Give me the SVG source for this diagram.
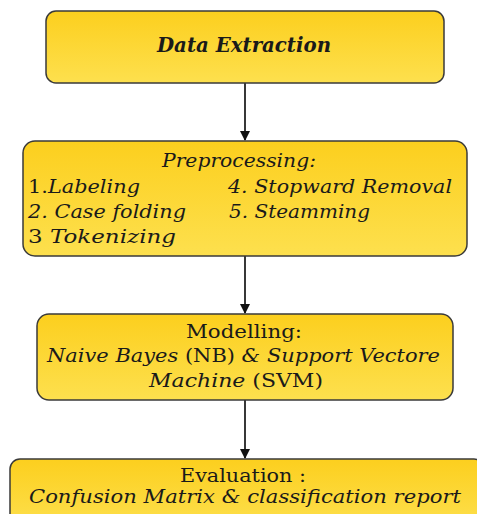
<svg xmlns="http://www.w3.org/2000/svg" width="477" height="514" viewBox="0 0 477 514">
<defs>
<linearGradient id="g" x1="0" y1="0" x2="0" y2="1">
<stop offset="0" stop-color="#FCCF1E"/>
<stop offset="1" stop-color="#FDE04E"/>
</linearGradient>
<marker id="ah" viewBox="0 0 10 10" refX="9" refY="5" markerWidth="10" markerHeight="10" markerUnits="userSpaceOnUse" orient="auto">
<path d="M0,0 L10,5 L0,10 z" fill="#111"/>
</marker>
</defs>
<style>
.box{fill:url(#g);stroke:#3a3a3a;stroke-width:1.5}
text{font-family:"DejaVu Serif","Liberation Serif",serif;fill:#1a1a1a}
.i{font-style:italic}
.c{text-anchor:middle}
.edge{stroke:#222;stroke-width:1.8;fill:none;marker-end:url(#ah)}
</style>
<g id="connectors">
<line class="edge" x1="245" y1="83" x2="245" y2="140"/>
<line class="edge" x1="245" y1="256" x2="245" y2="313"/>
<line class="edge" x1="245" y1="400" x2="245" y2="458"/>
</g>
<g id="n1">
<rect class="box" x="46" y="11" width="398" height="72" rx="10"/>
<text class="c i" x="244" y="52" font-size="21" font-weight="bold" textLength="174" lengthAdjust="spacingAndGlyphs">Data Extraction</text>
</g>
<g id="n2">
<rect class="box" x="23" y="141" width="444" height="115" rx="12"/>
<text class="c i" x="239" y="167" font-size="18.5" textLength="154" lengthAdjust="spacingAndGlyphs">Preprocessing:</text>
<text x="28" y="193" font-size="18.5" textLength="112" lengthAdjust="spacingAndGlyphs">1.<tspan class="i">Labeling</tspan></text>
<text class="i" x="228" y="193" font-size="18.5" textLength="224" lengthAdjust="spacingAndGlyphs">4. Stopward Removal</text>
<text class="i" x="28" y="218" font-size="18.5" textLength="158" lengthAdjust="spacingAndGlyphs">2. Case folding</text>
<text class="i" x="229" y="218" font-size="18.5" textLength="141" lengthAdjust="spacingAndGlyphs">5. Steamming</text>
<text x="28" y="243" font-size="18.5" textLength="148" lengthAdjust="spacingAndGlyphs">3 <tspan class="i">Tokenizing</tspan></text>
</g>
<g id="n3">
<rect class="box" x="37" y="314" width="416" height="86" rx="12"/>
<text class="c" x="244" y="338" font-size="18.5" textLength="116" lengthAdjust="spacingAndGlyphs">Modelling:</text>
<text x="47" y="362" font-size="18.5" textLength="393" lengthAdjust="spacingAndGlyphs"><tspan class="i">Naive Bayes</tspan> (NB) <tspan class="i">&amp; Support Vectore</tspan></text>
<text class="c" x="236" y="387" font-size="18.5" textLength="174" lengthAdjust="spacingAndGlyphs"><tspan class="i">Machine</tspan> (SVM)</text>
</g>
<g id="n4">
<rect class="box" x="10" y="459" width="474" height="70" rx="10"/>
<text class="c" x="243" y="482" font-size="18.5" textLength="126" lengthAdjust="spacingAndGlyphs">Evaluation :</text>
<text class="i" x="29" y="503" font-size="18.5" textLength="432" lengthAdjust="spacingAndGlyphs">Confusion Matrix &amp; classification report</text>
</g>
</svg>
